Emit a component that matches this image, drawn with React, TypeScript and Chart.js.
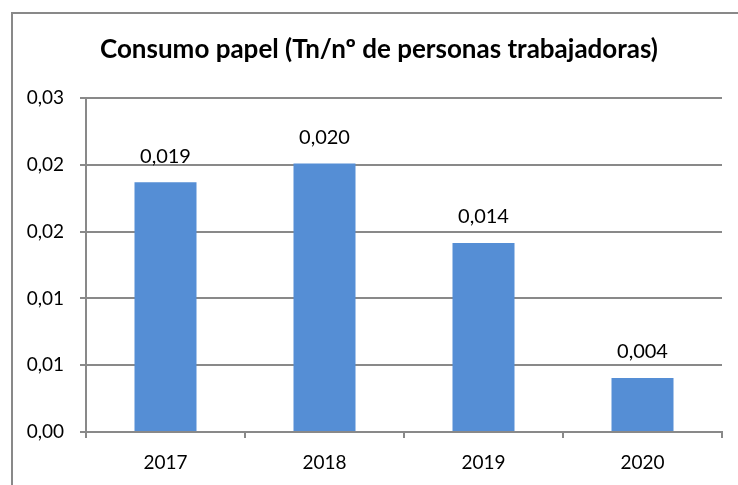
import React, { useEffect, useRef } from "react";
import { Chart, registerables } from "chart.js";

Chart.register(...registerables);

const categories = ["2017", "2018", "2019", "2020"];
const values = [0.0187, 0.0201, 0.01415, 0.00404];
const valueLabels = ["0,019", "0,020", "0,014", "0,004"];
const yTickLabels = ["0,00", "0,01", "0,01", "0,02", "0,02", "0,03"];
const titleText = "Consumo papel (Tn/nº de personas trabajadoras)";

const FONT = "Lato, 'Noto Sans', sans-serif";
const GRAY = "#898989";

const framePlugin = {
  id: "frame",
  beforeDraw(chart: any) {
    const { ctx } = chart;
    ctx.save();
    ctx.fillStyle = "#ffffff";
    ctx.fillRect(0, 0, chart.width, chart.height);
    ctx.strokeStyle = GRAY;
    ctx.lineWidth = 2;
    ctx.strokeRect(12, 13, chart.width + 20, chart.height + 20);
    ctx.restore();
  },
};

const titlePlugin = {
  id: "customTitle",
  afterDraw(chart: any) {
    const { ctx } = chart;
    ctx.save();
    ctx.font = `bold 26px ${FONT}`;
    ctx.fillStyle = "#000";
    ctx.textAlign = "center";
    ctx.textBaseline = "middle";
    ctx.fillText(titleText, 379, 50);
    ctx.restore();
  },
};

const labelPlugin = {
  id: "valueLabels",
  afterDatasetsDraw(chart: any) {
    const { ctx } = chart;
    const meta = chart.getDatasetMeta(0);
    ctx.save();
    ctx.font = `20px ${FONT}`;
    ctx.fillStyle = "#000";
    ctx.textAlign = "center";
    ctx.textBaseline = "middle";
    meta.data.forEach((bar: any, i: number) => {
      ctx.fillText(valueLabels[i], bar.x, bar.y - 26);
    });
    ctx.restore();
  },
};

export default function App() {
  const ref = useRef<HTMLCanvasElement>(null);
  useEffect(() => {
    if (!ref.current) return;
    const chart = new Chart(ref.current, {
      type: "bar",
      data: {
        labels: categories,
        datasets: [
          {
            data: values,
            backgroundColor: "#558ED5",
            borderWidth: 0,
            categoryPercentage: 1,
            barPercentage: 0.39,
          },
        ],
      },
      options: {
        animation: false,
        responsive: false,
        maintainAspectRatio: false,
        layout: { padding: { left: 0, right: 16, top: 98, bottom: 0 } },
        plugins: {
          legend: { display: false },
          tooltip: { enabled: false },
          title: { display: false },
        },
        scales: {
          x: {
            grid: {
              display: true,
              drawOnChartArea: false,
              drawTicks: true,
              tickLength: 6,
              color: GRAY,
              lineWidth: 2,
              offset: true,
            },
            border: { display: true, color: GRAY, width: 2 },
            ticks: {
              color: "#000",
              font: { family: FONT, size: 19 },
              padding: 13,
            },
            afterFit(scale: any) {
              scale.height = 53;
            },
          },
          y: {
            min: 0,
            max: 0.025,
            grid: {
              color: GRAY,
              lineWidth: 2,
              tickLength: 6,
              drawTicks: true,
            },
            border: { display: true, color: GRAY, width: 2 },
            ticks: {
              stepSize: 0.005,
              color: "#000",
              font: { family: FONT, size: 19 },
              padding: 16,
              callback: (_v: any, i: number) => yTickLabels[i],
            },
            afterFit(scale: any) {
              scale.width = 86;
            },
          },
        },
      },
      plugins: [framePlugin, labelPlugin, titlePlugin],
    });
    return () => chart.destroy();
  }, []);
  return (
    <div style={{ position: "fixed", left: 0, top: 0, width: 738, height: 485 }}>
      <canvas ref={ref} width={738} height={485} style={{ width: 738, height: 485 }} />
    </div>
  );
}
